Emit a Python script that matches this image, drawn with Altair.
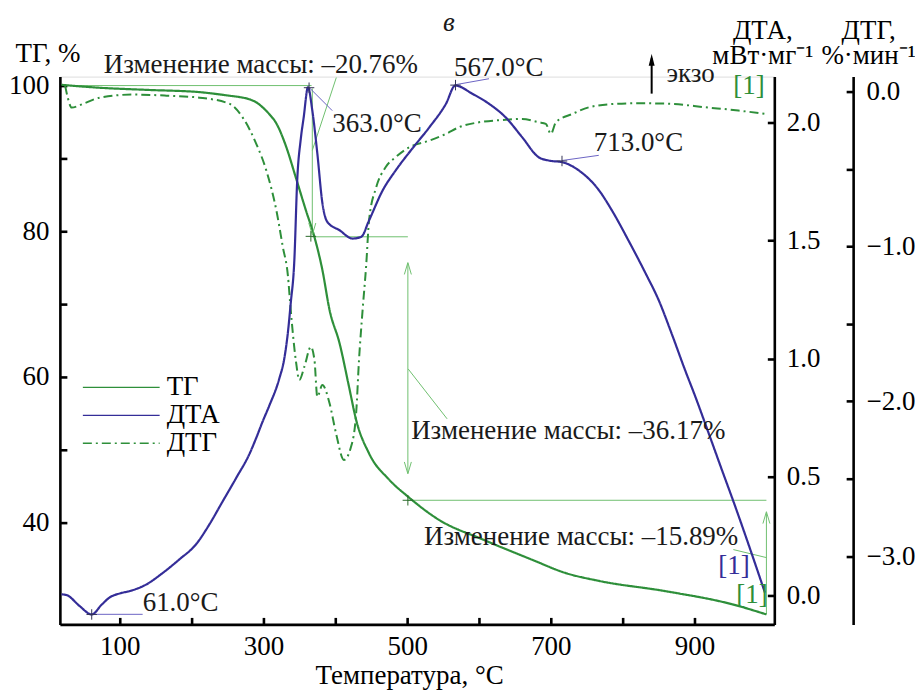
import altair as alt
import pandas as pd

FONT = "Liberation Serif"
FS = 27
GREEN = "#2e8f3a"
BLUE = "#342d98"
LIGHT_GREEN = "#6fc06f"
LIGHT_BLUE = "#6b64c4"

# ---------------- data ----------------
tg_temp = [19, 72, 140, 211, 230, 253, 268, 281, 290, 299, 308, 318, 332, 345, 359, 371, 382,
           392, 406, 419, 429, 447, 475, 502, 544, 605, 674, 720, 767, 859, 952, 1000]
tg_val = [100.1, 99.7, 99.4, 99.1, 98.9, 98.6, 98.4, 98.1, 97.7, 97.0, 96.1, 94.8, 91.5, 87.4,
          82.9, 79.2, 74.7, 69.2, 64.6, 58.7, 54.1, 49.5, 45.9, 43.5, 40.4, 37.7, 34.9, 33.1,
          32.0, 30.6, 28.8, 27.4]

dta_temp = [19, 26, 44, 61, 75, 86, 100, 114, 137, 160, 183, 206, 225, 243, 262, 281, 290,
            299, 308, 322, 329, 334, 338, 343, 347, 352, 356, 362, 368, 375, 382, 389, 406,
            424, 436, 447, 466, 484, 507, 531, 554, 567, 591, 614, 637, 660, 683, 697, 716,
            739, 767, 785, 808, 832, 850, 868, 887, 901, 919, 938, 956, 979, 998]
dta_val = [0.003, 0.0, -0.046, -0.082, -0.04, -0.01, 0.007, 0.017, 0.045, 0.094, 0.151, 0.214,
           0.30, 0.395, 0.495, 0.60, 0.665, 0.735, 0.80, 0.915, 1.0, 1.11, 1.235, 1.416, 1.754,
           1.93, 2.02, 2.148, 2.05, 1.868, 1.659, 1.578, 1.543, 1.508, 1.515, 1.585, 1.712,
           1.796, 1.888, 1.979, 2.078, 2.155, 2.12, 2.078, 2.021, 1.937, 1.852, 1.838, 1.831,
           1.796, 1.712, 1.627, 1.5, 1.36, 1.248, 1.107, 0.95, 0.84, 0.69, 0.53, 0.38, 0.18,
           0.01]

dtg_temp = [24, 28, 33, 50, 72, 118, 165, 211, 253, 271, 290, 304, 318, 327, 334, 338, 345,
            350, 357, 366, 371, 375, 382, 392, 401, 412, 422, 429, 433, 438, 443, 447, 457,
            470, 484, 503, 531, 554, 572, 600, 637, 660, 683, 693, 700, 707, 730, 753, 790,
            822, 868, 915, 961, 998]
dtg_val = [0.039, -0.045, -0.103, -0.077, -0.039, -0.019, -0.026, -0.039, -0.079, -0.166,
           -0.337, -0.509, -0.767, -1.003, -1.186, -1.411, -1.733, -1.862, -1.776, -1.648,
           -1.733, -1.970, -1.894, -2.012, -2.206, -2.378, -2.292, -2.077, -1.733, -1.411,
           -1.121, -0.831, -0.617, -0.488, -0.423, -0.359, -0.316, -0.273, -0.230, -0.198,
           -0.182, -0.176, -0.198, -0.208, -0.273, -0.198, -0.144, -0.101, -0.079, -0.075,
           -0.079, -0.101, -0.122, -0.144]

series_names = ["ТГ", "ДТА", "ДТГ"]

x_tick_values = [100, 200, 300, 400, 500, 600, 700, 800, 900]
x_label_values = [100, 300, 500, 700, 900]
tg_tick_values = [40, 50, 60, 70, 80, 90, 100]
tg_label_values = [40, 60, 80, 100]
dta_values = [0.0, 0.5, 1.0, 1.5, 2.0]
dtg_tick_values = [0.0, -0.5, -1.0, -1.5, -2.0, -2.5, -3.0]
dtg_label_values = [0.0, -1.0, -2.0, -3.0]

# annotations (data units)
tg_seg_t1 = [22, 368, 367, 501, 501, 1000, 401.4, 501.4, 954]
tg_seg_v1 = [100, 99.6, 79.24, 75.6, 43.07, 27.4, 101.1, 61.1, 36.3]
tg_seg_t2 = [367, 368, 501, 501, 1000, 1000, 368, 555.6, 1000]
tg_seg_v2 = [100, 79.8, 79.24, 46.8, 43.07, 41.3, 91.1, 54.25, 35.2]

arrow_t = [368, 501, 501, 1000]
arrow_v = [79.5, 75.7, 46.7, 41.5]
arrow_angle = [0, 180, 0, 180]

tg_cross_t = [366, 501]
tg_cross_v = [79.3, 43.07]

tg_text = ["Изменение массы: –20.76%", "Изменение массы: –36.17%",
           "Изменение массы: –15.89%"]
tg_text_t = [77.8, 505.6, 523.6]
tg_text_v = [102.88, 52.53, 38.08]

dta_seg_t1 = [363.9, 567.6, 715.3, 61.1]
dta_seg_v1 = [2.146, 2.159, 1.838, -0.0814]
dta_seg_t2 = [395.8, 613.9, 766.7, 131.9]
dta_seg_v2 = [2.049, 2.184, 1.86, -0.0814]

dta_cross_t = [363.5, 567.3, 715.5, 61.0]
dta_cross_v = [2.146, 2.157, 1.836, -0.082]

dta_text = ["363.0°C", "567.0°C", "713.0°C", "61.0°C", "экзо"]
dta_text_t = [395.8, 565.3, 759.7, 131.9, 861]
dta_text_v = [1.994, 2.229, 1.912, -0.035, 2.205]

exo_t = [840.3]
exo_v1 = [2.121]
exo_v2 = [2.27]
exo_head_v = [2.29]

ref_blue_t = [933]
ref_blue_v = [0.1245]
ref_green_t = [958]
ref_green_v = [30.0]
ref_dtg_t = [954]
ref_dtg_v = [0.039]

panel_t = [558]
panel_v = [108.6]

# ---------------- scales ----------------
X_SCALE = alt.Scale(domain=[16.7, 1011], nice=False, zero=False)
TG_SCALE = alt.Scale(domain=[26.03, 101.23], nice=False, zero=False)
DTA_SCALE = alt.Scale(domain=[-0.124, 2.193], nice=False, zero=False)
DTG_SCALE = alt.Scale(domain=[-3.44, 0.097], nice=False, zero=False)

color_scale = alt.Scale(domain=series_names, range=[GREEN, BLUE, GREEN])
dash_scale = alt.Scale(domain=series_names, range=[[1, 0], [1, 0], [9, 4, 2, 4]])

legend = alt.Legend(
    title=None, orient="none", legendX=48, legendY=298, padding=0,
    symbolType="M-5.13,0L5.13,0", symbolSize=225, symbolStrokeWidth=1.4,
    labelFont=FONT, labelFontSize=FS, labelColor="black", labelOffset=32, rowPadding=0,
)

AXW = 2.6


def main_axis(orient, values, pad, fmt=None, offset=0, **kw):
    args = dict(orient=orient, values=values, offset=offset, ticks=False, tickSize=0,
                domain=True, domainColor="black", domainWidth=AXW, grid=False,
                labelFont=FONT, labelFontSize=FS, labelColor="black", labelPadding=pad,
                titleFont=FONT, titleFontSize=FS, titleFontWeight="normal",
                titleColor="black")
    if fmt:
        args["format"] = fmt
    args.update(kw)
    return alt.Axis(**args)


def tick_axis(orient, values, offset):
    return alt.Axis(orient=orient, values=values, offset=offset, ticks=True, tickSize=7,
                    tickWidth=AXW, tickColor="black", domain=False, labels=False,
                    grid=False, title="")


x_main = main_axis("bottom", x_label_values, 9, title="Температура, °C",
                   titleX=350, titleY=51, titleAlign="center", titleBaseline="middle",
                   titleAngle=0)
x_ticks_ax = tick_axis("bottom", x_tick_values, -7)

tg_main = main_axis("left", tg_label_values, 11, title="ТГ, %", titleAngle=0,
                    titleAlign="left", titleBaseline="middle", titleX=-45, titleY=-23)
tg_ticks_ax = tick_axis("left", tg_tick_values, -7)

dta_main = main_axis("right", dta_values, 12, fmt=".1f", title=["ДТА,", "мВт·мг⁻¹"],
                     titleAngle=0, titleAlign="center", titleBaseline="alphabetic",
                     titleX=-12, titleY=-38.5, titleLineHeight=25)
dta_ticks_ax = tick_axis("right", dta_values, -7)

dtg_main = main_axis("right", dtg_label_values, 13, fmt=".1f", offset=79,
                     title=["ДТГ,", "%·мин⁻¹"], titleAngle=0, titleAlign="center",
                     titleBaseline="alphabetic", titleX=15, titleY=-38.5,
                     titleLineHeight=25)
dtg_ticks_ax = tick_axis("right", dtg_tick_values, 72)

# ---------------- frames ----------------
tg_df = pd.DataFrame({"t": tg_temp, "v": tg_val, "series": "ТГ"})
dta_df = pd.DataFrame({"t": dta_temp, "v": dta_val, "series": "ДТА"})
dtg_df = pd.DataFrame({"t": dtg_temp, "v": dtg_val, "series": "ДТГ"})

tg_seg_df = pd.DataFrame({"t1": tg_seg_t1, "v1": tg_seg_v1, "t2": tg_seg_t2, "v2": tg_seg_v2})
dta_seg_df = pd.DataFrame({"t1": dta_seg_t1, "v1": dta_seg_v1, "t2": dta_seg_t2,
                           "v2": dta_seg_v2})
arrow_df = pd.DataFrame({"t": arrow_t, "v": arrow_v, "a": arrow_angle})
tg_cross_df = pd.DataFrame({"t": tg_cross_t, "v": tg_cross_v})
dta_cross_df = pd.DataFrame({"t": dta_cross_t, "v": dta_cross_v})
tg_text_df = pd.DataFrame({"t": tg_text_t, "v": tg_text_v, "label": tg_text})
dta_text_df = pd.DataFrame({"t": dta_text_t, "v": dta_text_v, "label": dta_text})
exo_df = pd.DataFrame({"t": exo_t, "v1": exo_v1, "v2": exo_v2, "h": exo_head_v})
ref_blue_df = pd.DataFrame({"t": ref_blue_t, "v": ref_blue_v, "label": ["[1]"]})
ref_green_df = pd.DataFrame({"t": ref_green_t, "v": ref_green_v, "label": ["[1]"]})
ref_dtg_df = pd.DataFrame({"t": ref_dtg_t, "v": ref_dtg_v, "label": ["[1]"]})
panel_df = pd.DataFrame({"t": panel_t, "v": panel_v, "label": ["в"]})


def X(field="t", axis=None):
    return alt.X(f"{field}:Q", scale=X_SCALE, axis=axis)


def Y(scale, field="v", axis=None):
    return alt.Y(f"{field}:Q", scale=scale, axis=axis)


color_enc = alt.Color("series:N", scale=color_scale, legend=legend)
dash_enc = alt.StrokeDash("series:N", scale=dash_scale, legend=legend)

tg_line = alt.Chart(tg_df).mark_line(strokeWidth=2.2, interpolate="monotone").encode(
    x=X(axis=x_main), y=Y(TG_SCALE, axis=tg_main), color=color_enc, strokeDash=dash_enc)

dta_line = alt.Chart(dta_df).mark_line(strokeWidth=2.2, interpolate="monotone").encode(
    x=X(axis=x_ticks_ax), y=Y(DTA_SCALE, axis=dta_main), color=color_enc,
    strokeDash=dash_enc)

dtg_line = alt.Chart(dtg_df).mark_line(strokeWidth=2.0, interpolate="monotone").encode(
    x=X(), y=Y(DTG_SCALE, axis=dtg_main), color=color_enc, strokeDash=dash_enc)

tg_segs = alt.Chart(tg_seg_df).mark_rule(color=LIGHT_GREEN, strokeWidth=1).encode(
    x=X("t1"), x2="t2:Q", y=Y(TG_SCALE, "v1", axis=tg_ticks_ax), y2="v2:Q")

dta_segs = alt.Chart(dta_seg_df).mark_rule(color=LIGHT_BLUE, strokeWidth=1).encode(
    x=X("t1"), x2="t2:Q", y=Y(DTA_SCALE, "v1", axis=dta_ticks_ax), y2="v2:Q")

ref_dtg = alt.Chart(ref_dtg_df).mark_text(
    align="left", baseline="middle", font=FONT, fontSize=FS, color=GREEN).encode(
    x=X(), y=Y(DTG_SCALE, axis=dtg_ticks_ax), text="label:N")

arrows = alt.Chart(arrow_df).mark_point(
    shape="M-1,-3.4L0,0L1,-3.4", size=49, filled=False, strokeWidth=1,
    color=LIGHT_GREEN, opacity=1).encode(
    x=X(), y=Y(TG_SCALE), angle=alt.Angle("a:Q", scale=None))

tg_cross = alt.Chart(tg_cross_df).mark_point(
    shape="M-1,0L1,0M0,-1L0,1", size=110, filled=False, strokeWidth=1,
    color="#2a6a2a", opacity=1).encode(x=X(), y=Y(TG_SCALE))

dta_cross = alt.Chart(dta_cross_df).mark_point(
    shape="M-1,0L1,0M0,-1L0,1", size=110, filled=False, strokeWidth=1,
    color="#333355", opacity=1).encode(x=X(), y=Y(DTA_SCALE))

tg_texts = alt.Chart(tg_text_df).mark_text(
    align="left", baseline="middle", font=FONT, fontSize=FS, color="#1a1a1a").encode(
    x=X(), y=Y(TG_SCALE), text="label:N")

dta_texts = alt.Chart(dta_text_df).mark_text(
    align="left", baseline="middle", font=FONT, fontSize=FS, color="#1a1a1a").encode(
    x=X(), y=Y(DTA_SCALE), text="label:N")

exo_rule = alt.Chart(exo_df).mark_rule(color="black", strokeWidth=2).encode(
    x=X(), y=Y(DTA_SCALE, "v1"), y2="v2:Q")

exo_head = alt.Chart(exo_df).mark_point(
    shape="M-1,4L0,0L1,4Z", size=36, filled=True, color="black", opacity=1).encode(
    x=X(), y=Y(DTA_SCALE, "h"))

ref_blue = alt.Chart(ref_blue_df).mark_text(
    align="left", baseline="middle", font=FONT, fontSize=FS, color=BLUE).encode(
    x=X(), y=Y(DTA_SCALE), text="label:N")

ref_green = alt.Chart(ref_green_df).mark_text(
    align="left", baseline="middle", font=FONT, fontSize=FS, color=GREEN).encode(
    x=X(), y=Y(TG_SCALE), text="label:N")

panel = alt.Chart(panel_df).mark_text(
    align="center", baseline="middle", font=FONT, fontSize=FS, fontStyle="italic",
    color="#1a1a1a").encode(x=X(), y=Y(TG_SCALE), text="label:N")

chart = alt.layer(
    tg_segs, dta_segs, dtg_line, tg_line, dta_line, ref_dtg, arrows, tg_cross, dta_cross,
    tg_texts, dta_texts, exo_rule, exo_head, ref_blue, ref_green, panel,
).resolve_scale(
    y="independent"
).resolve_axis(
    x="independent", y="independent"
).properties(
    width=716, height=549,
    autosize=alt.AutoSizeParams(type="none"),
    padding={"left": 52, "top": 68, "right": 141, "bottom": 68},
).configure_view(
    stroke=None
).configure(
    font=FONT, background="white"
)

chart.save("out.html", embed_options={"renderer": "svg", "actions": False})
